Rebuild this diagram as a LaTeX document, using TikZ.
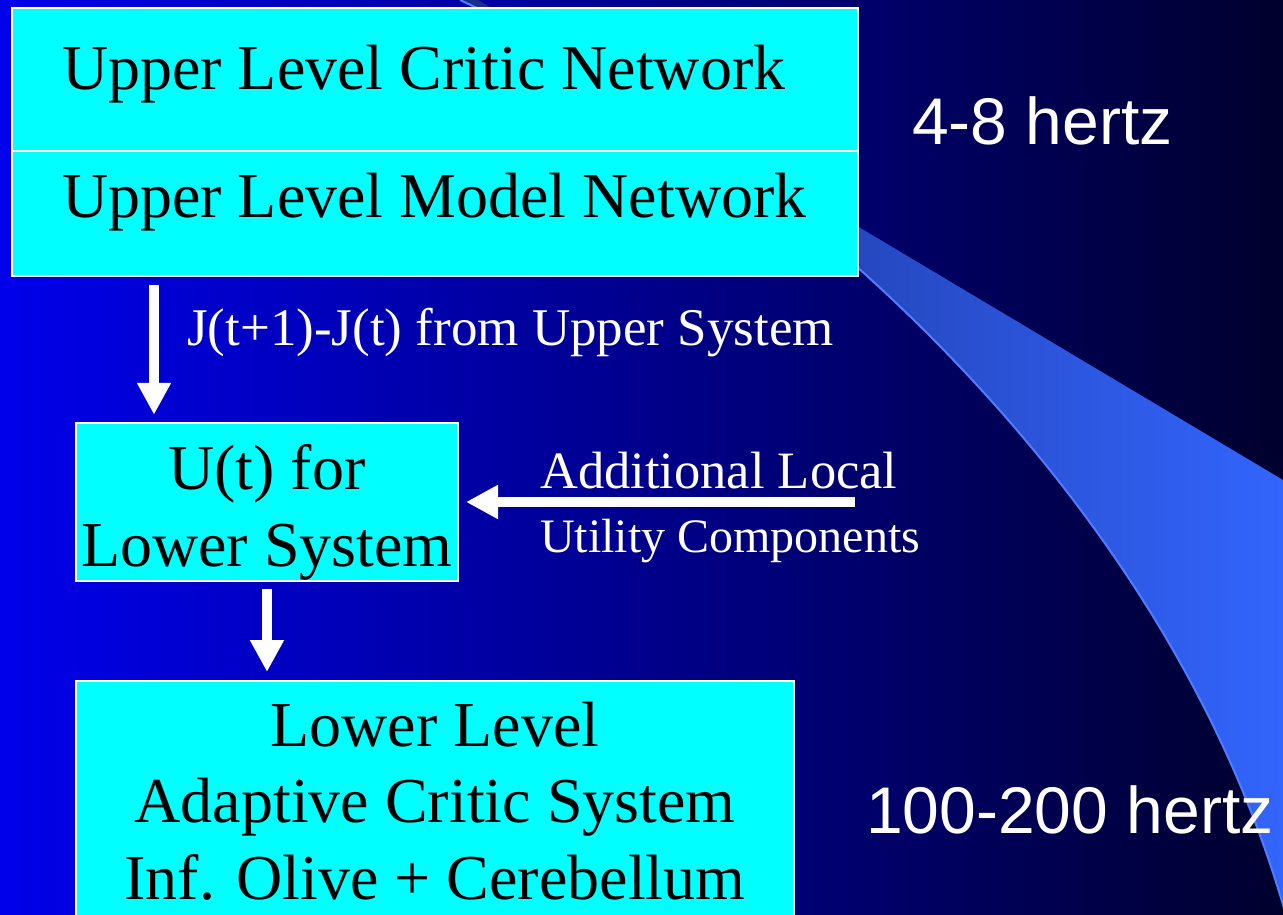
\documentclass[tikz,border=0pt]{standalone}
\usepackage{fontspec}
\setmainfont{Liberation Serif}
\newfontfamily\arialfont{Liberation Sans}
\usetikzlibrary{arrows.meta}
\definecolor{boxcyan}{RGB}{0,255,255}
\definecolor{bgleft}{RGB}{0,0,235}
\definecolor{bgmid}{RGB}{0,0,160}
\definecolor{bgright}{RGB}{0,0,45}
\definecolor{swA}{RGB}{25,45,135}
\definecolor{swB}{RGB}{51,102,255}
\definecolor{swline}{RGB}{80,125,255}
\tikzset{
  cbox/.style={draw=white, line width=2pt, fill=boxcyan, text=black, inner xsep=0pt, inner ysep=0pt,
    font=\fontsize{64}{76.5}\selectfont},
  bigarrow/.style={draw=white, line width=10.5pt, -{Triangle[width=32pt,length=32pt]}},
  whitelabel/.style={text=white, inner sep=0pt, anchor=base west},
  hzlabel/.style={whitelabel, font=\arialfont\fontsize{66}{70}\selectfont}
}
\begin{document}
\begin{tikzpicture}[x=1pt,y=-1pt]
\clip (0,0) rectangle (1283,915);
% background
\shade[left color=bgleft, middle color=bgmid, right color=bgright] (0,0) rectangle (1283,915);
% swoosh
\shade[left color=swA, right color=swB]
  (478,0) -- (1283,480) -- (1300,480) -- (1300,935) -- (1290,930)
  .. controls (1170,480) and (760,140) .. (460,0) -- cycle;
\draw[swline, line width=2pt] (460,0) .. controls (760,140) and (1170,480) .. (1290,930);

% boxes
\node[cbox, inner xsep=50pt, text height=82pt, text depth=61pt] (critic) at (435,79.5)
  {\makebox[746pt][l]{Upper Level Critic Network}};
\node[cbox, inner xsep=50pt, text height=67pt, text depth=58pt] (model) at (435,213.5)
  {\makebox[746pt][l]{Upper Level Model Network}};
\node[cbox, minimum width=382pt, align=center] (mid) at (267,502)
  {\rule{0pt}{67pt}U(t) for\\Lower System\rule[-15pt]{0pt}{15pt}};
\node[cbox, minimum width=718pt, align=center, anchor=north] (low) at (435,680)
  {\rule{0pt}{65pt}Lower Level\\Adaptive Critic System\\Inf. Olive + Cerebellum\rule[-42pt]{0pt}{42pt}};

% connectors
\coordinate (hstart) at (855,502);
\draw[bigarrow] ([shift={(143,8)}]model.south west) -- ([shift={(79,-7)}]mid.north west);
\draw[bigarrow] ([shift={(0,7)}]mid.south) -- ([shift={(0,-8)}]mid.south |- low.north);
\draw[bigarrow] (hstart) -- ([shift={(7,0)}]mid.east);

% labels
\node[whitelabel, font=\fontsize{53}{60}\selectfont] (jlab) at (187,345) {J(t+1)-J(t) from Upper System};
\node[whitelabel, font=\fontsize{52.5}{60}\selectfont] (addl) at (540,488) {Additional Local};
\node[whitelabel, font=\fontsize{48}{56}\selectfont] (util) at (540,552) {Utility Components};
\node[hzlabel] (hz1) at (912,145) {4-8 hertz};
\node[hzlabel] (hz2) at (866,833) {100-200 hertz};
\end{tikzpicture}
\end{document}
